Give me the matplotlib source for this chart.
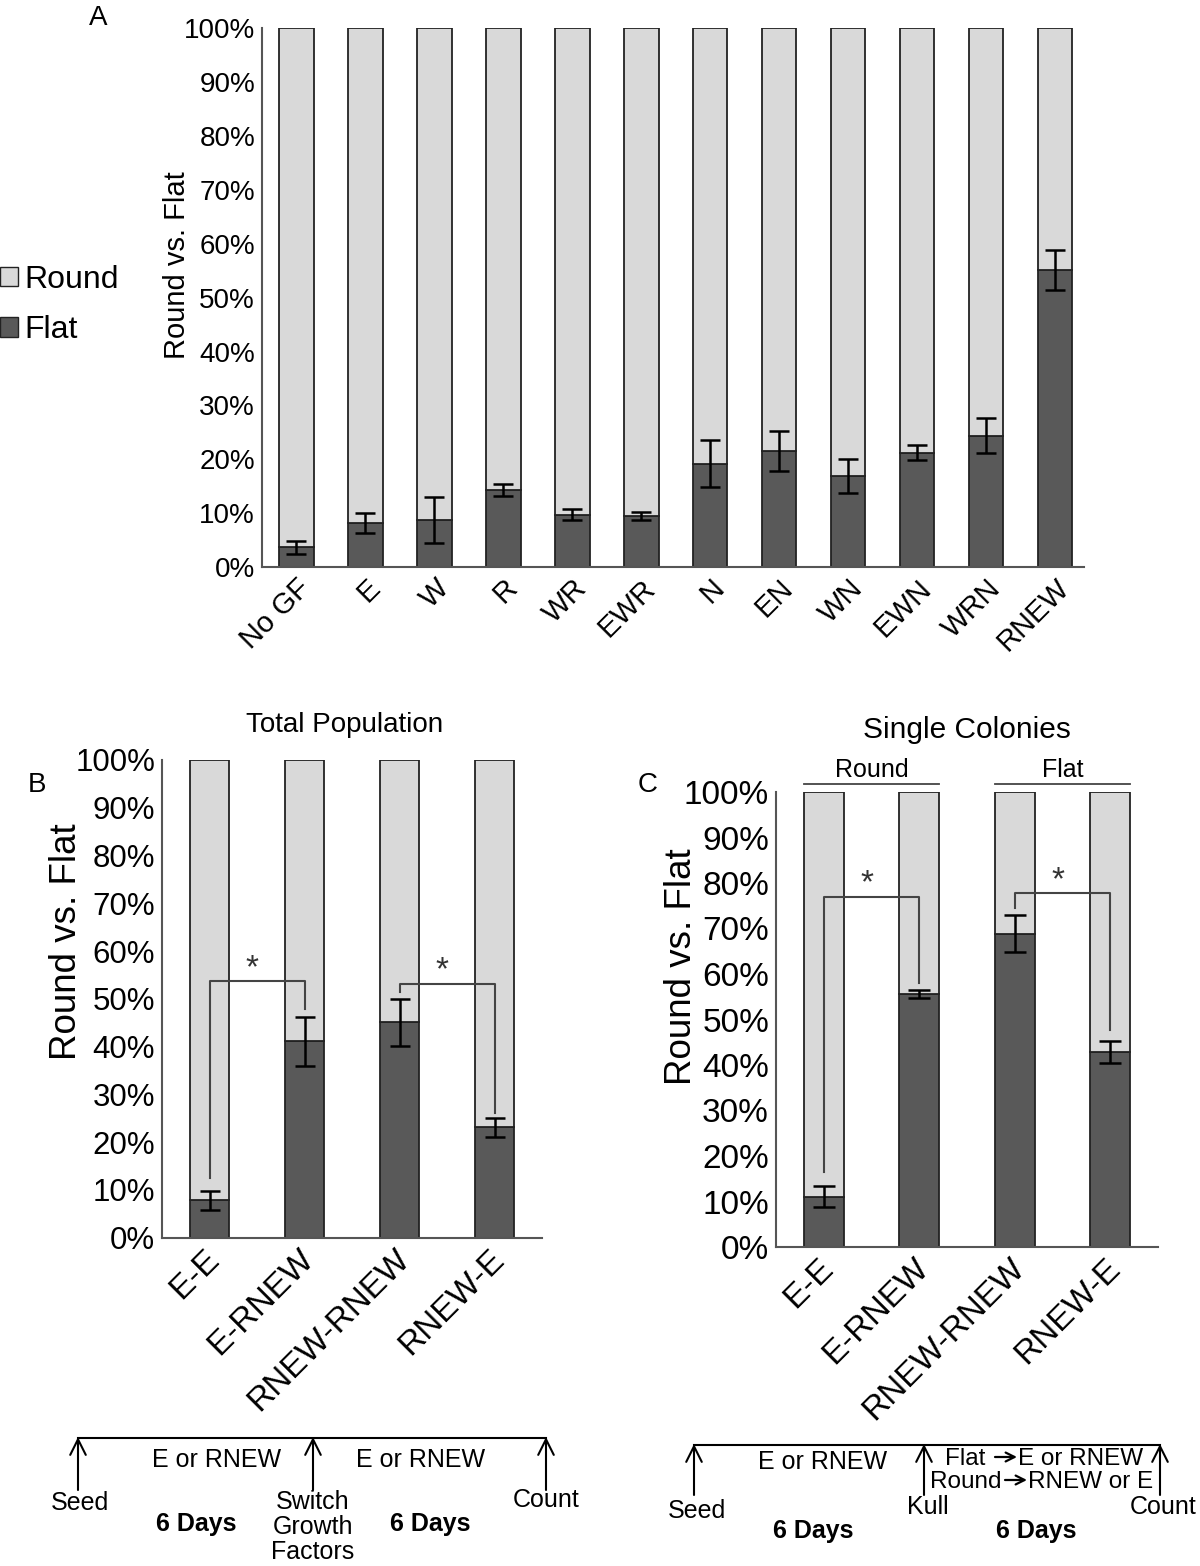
import numpy as np
import matplotlib
matplotlib.use('Agg')
import matplotlib.pyplot as plt
import matplotlib.transforms as mtransforms
from matplotlib.patches import Patch

plt.rcParams['font.family'] = ['Liberation Sans', 'DejaVu Sans']

# ---- data (% flat colonies, rest is round) ----
a_labels = ['No GF', 'E', 'W', 'R', 'WR', 'EWR', 'N', 'EN', 'WN', 'EWN', 'WRN', 'RNEW']
a_flat = [3.7, 8.2, 8.7, 14.3, 9.7, 9.5, 19.2, 21.6, 16.9, 21.2, 24.4, 55.1]
a_err = [1.2, 1.9, 4.3, 1.2, 1.0, 0.8, 4.3, 3.7, 3.1, 1.4, 3.2, 3.7]

bc_labels = ['E-E', 'E-RNEW', 'RNEW-RNEW', 'RNEW-E']
b_flat = [7.8, 41.1, 45.1, 23.1]
b_err = [2.0, 5.1, 4.9, 2.0]
# (left bar, right bar, bracket height, left drop, right drop)
b_brackets = [(0, 1, 53.7, 12.4, 47.8), (2, 3, 53.2, 51.4, 26.0)]

c_flat = [11.0, 55.6, 68.9, 42.8]
c_err = [2.3, 0.8, 4.1, 2.45]
c_brackets = [(0, 1, 77.0, 16.5, 58.1), (2, 3, 77.7, 74.6, 47.7)]

yticks = list(range(0, 101, 10))
DARK = '#595959'
LIGHT = '#d9d9d9'
EDGE = '#222222'
SPINE = '#555555'


def stacked(ax, labels, flat, err, width, fs, xfs, cap, xpad, shift=0):
    x = np.arange(len(labels))
    flat = np.array(flat)
    ax.bar(x, flat, width, color=DARK, edgecolor=EDGE, lw=1.3, zorder=2)
    ax.bar(x, 100 - flat, width, bottom=flat, color=LIGHT, edgecolor=EDGE, lw=1.3, zorder=2)
    ax.errorbar(x, flat, yerr=err, fmt='none', ecolor='black', elinewidth=1.8,
                capsize=cap, capthick=1.8, zorder=4)
    ax.set_xlim(-0.5, len(labels) - 0.5)
    ax.set_ylim(0, 100)
    ax.set_yticks(yticks)
    ax.set_yticklabels([f'{v}%' for v in yticks], fontsize=fs)
    ax.set_xticks(x)
    ax.set_xticklabels(labels, fontsize=xfs, rotation=45, ha='right', rotation_mode='anchor')
    ax.tick_params(length=0, axis='y', pad=5)
    ax.tick_params(length=0, axis='x', pad=xpad)
    if shift:
        off = mtransforms.ScaledTranslation(shift / 100, 0, ax.figure.dpi_scale_trans)
        for lab in ax.get_xticklabels():
            lab.set_transform(lab.get_transform() + off)
    for s in ['top', 'right']:
        ax.spines[s].set_visible(False)
    for s in ['left', 'bottom']:
        ax.spines[s].set_color(SPINE)
        ax.spines[s].set_linewidth(1.5)


def brackets(ax, br, fs):
    for l, r, h, dl, dr in br:
        ax.plot([l, l, r, r], [dl, h, h, dr], color='#444444', lw=1.5, zorder=5)
        ax.text((l + r) / 2 - 0.05, h - 0.6, '*', ha='center', va='bottom',
                fontsize=fs, color='#333333', zorder=5)


fig = plt.figure(figsize=(12, 15.66), dpi=100)

# panel A
axA = fig.add_axes([262 / 1200, 1 - 567 / 1566, 822 / 1200, 538.7 / 1566])
stacked(axA, a_labels, a_flat, a_err, 0.5, 20, 21, 7, 5)
axA.set_xlim(-0.5, 11.42)
axA.set_ylabel('Round vs. Flat', fontsize=21)
axA.yaxis.set_label_coords(-0.086, 0.56)
leg = axA.legend([Patch(facecolor=LIGHT, edgecolor=EDGE), Patch(facecolor=DARK, edgecolor=EDGE)],
                 ['Round', 'Flat'], loc='center left', bbox_to_anchor=(0.0, 1 - 305 / 1566),
                 bbox_transform=fig.transFigure, frameon=False, fontsize=23,
                 handlelength=0.55, handleheight=0.55, handletextpad=0.2, labelspacing=0.65,
                 borderaxespad=0, borderpad=0)

# panel B
axB = fig.add_axes([162 / 1200, 1 - 1237.7 / 1566, 380 / 1200, 477.7 / 1566])
stacked(axB, bc_labels, b_flat, b_err, 0.42, 22.5, 24, 7, 4, shift=-6)
brackets(axB, b_brackets, 24)
axB.set_ylabel('Round vs. Flat', fontsize=26.5)
axB.yaxis.set_label_coords(-0.205, 0.62)
axB.set_title('Total Population', fontsize=20, pad=20, x=0.48)

# panel C
axC = fig.add_axes([776 / 1200, 1 - 1247 / 1566, 382 / 1200, 455 / 1566])
stacked(axC, bc_labels, c_flat, c_err, 0.42, 24, 24, 8, 4, shift=-6)
brackets(axC, c_brackets, 24)
axC.set_ylabel('Round vs. Flat', fontsize=26.5)
axC.yaxis.set_label_coords(-0.202, 0.615)
axC.set_title('Single Colonies', fontsize=21.5, pad=39)
trans = mtransforms.blended_transform_factory(axC.transData, axC.transAxes)
for (l, r), name in zip([(0, 1), (2, 3)], ['Round', 'Flat']):
    axC.plot([l - 0.21, r + 0.21], [1.018, 1.018], color='#444444', lw=1.3,
             transform=trans, clip_on=False)
    axC.text((l + r) / 2, 1.023, name, transform=trans, ha='center', va='bottom', fontsize=18)

# panel letters
fig.text(98 / 1200, 1 - 18 / 1566, 'A', fontsize=20, ha='center', va='center')
fig.text(37 / 1200, 1 - 785 / 1566, 'B', fontsize=20, ha='center', va='center')
fig.text(648 / 1200, 1 - 785 / 1566, 'C', fontsize=20, ha='center', va='center')

# timelines under B and C (pixel overlay)
axT = fig.add_axes([0, 0, 1, 1], facecolor='none')
axT.set_xlim(0, 1200)
axT.set_ylim(1566, 0)
axT.axis('off')


def timeline(y, xs, bottom):
    axT.plot([xs[0], xs[-1]], [y, y], color='black', lw=1.5)
    for xx in xs:
        axT.annotate('', xy=(xx, y - 1), xytext=(xx, bottom),
                     arrowprops=dict(arrowstyle='->', lw=1.5, color='black',
                                     mutation_scale=28, shrinkA=0, shrinkB=0))


def switch_line(y, left, right, x0, x1, fs):
    # "left -> right" with a small drawn arrow in between
    axT.text(x0, y, left, fontsize=fs, ha='right', va='center')
    axT.text(x1 + 1, y, right, fontsize=fs, ha='left', va='center')
    axT.annotate('', xy=(x1, y - 2), xytext=(x0 + 3, y - 2),
                 arrowprops=dict(arrowstyle='->', lw=1.6, color='black',
                                 mutation_scale=16, shrinkA=0, shrinkB=0))


timeline(1438, [78, 313, 546], 1490)
tfs = 18
axT.text(217, 1460, 'E or RNEW', fontsize=tfs, ha='center', va='center')
axT.text(421, 1460, 'E or RNEW', fontsize=tfs, ha='center', va='center')
axT.text(80, 1503, 'Seed', fontsize=tfs, ha='center', va='center')
axT.text(313, 1527, 'Switch\nGrowth\nFactors', fontsize=tfs, ha='center', va='center',
         linespacing=1.05)
axT.text(546, 1500, 'Count', fontsize=tfs, ha='center', va='center')
axT.text(196, 1524, '6 Days', fontsize=tfs, ha='center', va='center', weight='bold')
axT.text(430, 1524, '6 Days', fontsize=tfs, ha='center', va='center', weight='bold')

timeline(1445, [694, 924, 1160], 1495)
axT.text(823, 1462, 'E or RNEW', fontsize=tfs, ha='center', va='center')
switch_line(1459, 'Flat ', 'E or RNEW', 992, 1017, 17.5)
switch_line(1482, 'Round', 'RNEW or E', 1002, 1027, 17.5)
axT.text(697, 1511, 'Seed', fontsize=tfs, ha='center', va='center')
axT.text(928, 1507, 'Kull', fontsize=tfs, ha='center', va='center')
axT.text(1163, 1507, 'Count', fontsize=tfs, ha='center', va='center')
axT.text(813, 1531, '6 Days', fontsize=tfs, ha='center', va='center', weight='bold')
axT.text(1036, 1531, '6 Days', fontsize=tfs, ha='center', va='center', weight='bold')

fig.savefig('out.png', dpi=100)
